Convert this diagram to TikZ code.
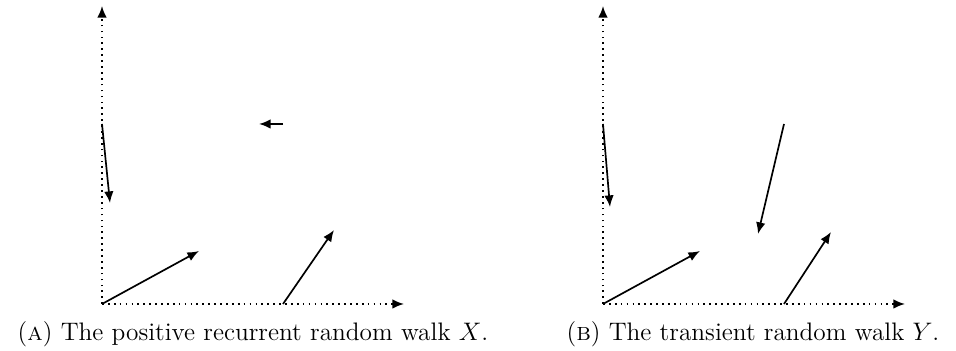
\documentclass[tikz,border=0pt]{standalone}
\usetikzlibrary{arrows.meta}
\begin{document}
\begin{tikzpicture}[x=0.0166667cm,y=-0.0166667cm,
  axis/.style={thick,dotted,-{Latex[length=5.5pt,width=4.5pt]}},
  jump/.style={thick,-{Latex[length=5.5pt,width=4.5pt]}},
  captext/.style={inner sep=0pt,anchor=base,font=\fontsize{12}{14}\selectfont}]
\useasboundingbox (0,0) rectangle (956,351);
% ---- panel A ----
\coordinate (oA) at (102,304);
\coordinate (yA) at (102,6);
\coordinate (xA) at (404,304);
\coordinate (pA) at (283,304);
\coordinate (qA) at (102,124);
\coordinate (rA) at (283,124);
\coordinate (a1) at (199,251);
\coordinate (a2) at (334,230);
\coordinate (a3) at (110,203);
\coordinate (a4) at (259,124);
\draw[axis] (oA) -- (yA);
\draw[axis] (oA) -- (xA);
\draw[jump] (oA) -- (a1);
\draw[jump] (pA) -- (a2);
\draw[jump] (qA) -- (a3);
\draw[jump] (rA) -- (a4);
\node[captext] (capA) at (253,341) {(\textsc{a}) The positive recurrent random walk $X$.};
% ---- panel B ----
\coordinate (oB) at (603,304);
\coordinate (yB) at (603,6);
\coordinate (xB) at (905,304);
\coordinate (pB) at (784,304);
\coordinate (qB) at (603,124);
\coordinate (rB) at (784,124);
\coordinate (b1) at (700,251);
\coordinate (b2) at (831,232);
\coordinate (b3) at (610,207);
\coordinate (b4) at (758,234);
\draw[axis] (oB) -- (yB);
\draw[axis] (oB) -- (xB);
\draw[jump] (oB) -- (b1);
\draw[jump] (pB) -- (b2);
\draw[jump] (qB) -- (b3);
\draw[jump] (rB) -- (b4);
\node[captext] (capB) at (753,341) {(\textsc{b}) The transient random walk $Y$.};
\end{tikzpicture}
\end{document}
